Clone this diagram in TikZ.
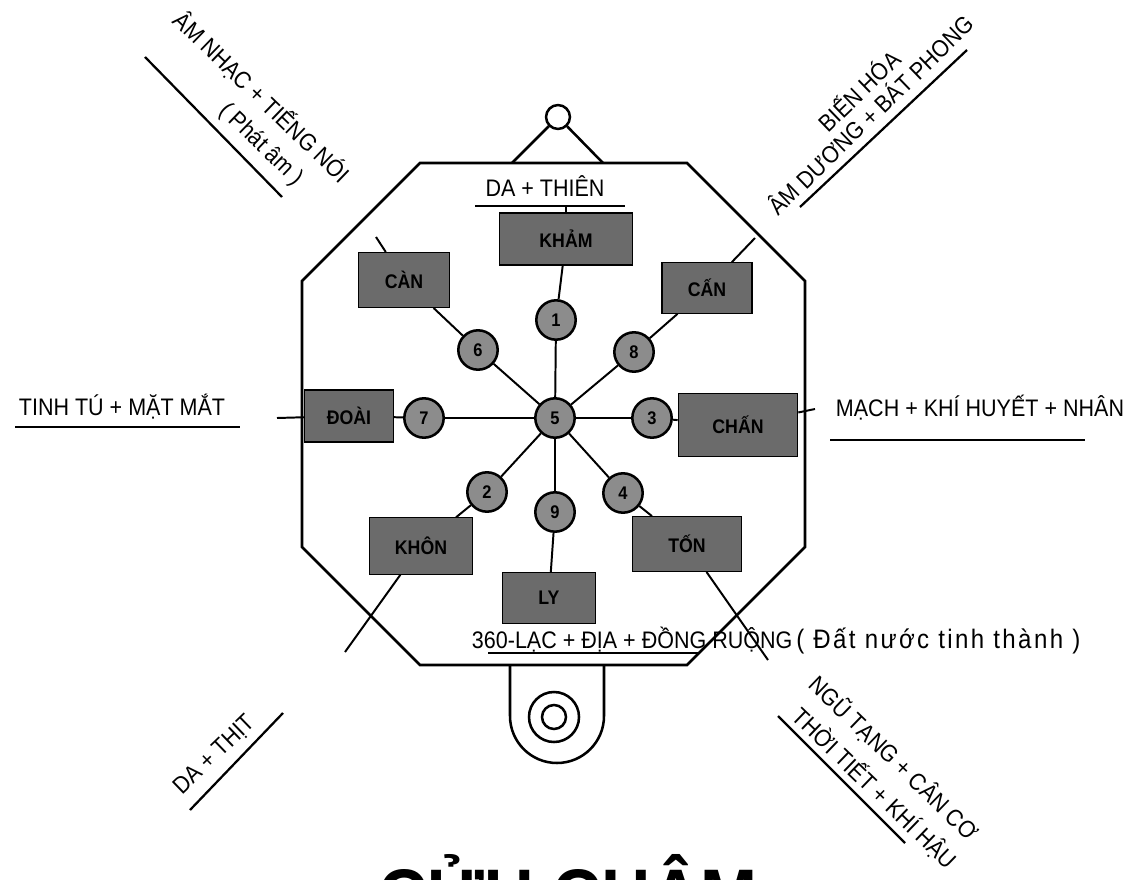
\documentclass[tikz,border=0pt]{standalone}
\usepackage{fontspec}
\setmainfont{Liberation Sans}[FakeStretch=0.9]
\usetikzlibrary{backgrounds}

\begin{document}
\begin{tikzpicture}[
  x=0.025cm, y=-0.025cm,
  every node/.style={font=\fontsize{17}{19}\selectfont},
  cung/.style={draw, thick, fill=black!58, inner sep=0pt,
               font=\fontsize{14}{16}\selectfont\bfseries},
  so/.style={circle, draw, line width=1.8pt, fill=black!45, inner sep=0pt,
             minimum size=28pt, font=\fontsize{13}{15}\selectfont\bfseries},
  ke/.style={line width=1.4pt},
  nen/.style={line width=1.8pt},
  gach/.style={line width=1.6pt}
]
\clip (0,0) rectangle (1138,880);
\begin{scope}[on background layer]
\fill[white] (0,0) rectangle (1138,880);
\end{scope}

%% Khung bat giac
\draw[nen] (420,163) -- (687,163) -- (805,281) -- (805,547) -- (687,665)
  -- (420,665) -- (302,547) -- (302,281) -- cycle;
\node[circle, draw, nen, minimum size=17pt, inner sep=0pt] (moc) at (558,117) {};
\coordinate (mocT) at (512,163);
\coordinate (mocP) at (603,163);
\draw[nen] (moc) -- (mocT);
\draw[nen] (moc) -- (mocP);
\draw[nen] (510,665) -- (510,716) arc (180:0:47) -- (604,665);
\draw[nen] (554,717) circle (25);
\draw[nen] (554,717) circle (12);

%% Cung
\node[cung, minimum width=94pt, minimum height=37pt] (kham) at (566,239) {KHẢM};
\node[cung, minimum width=65pt, minimum height=39pt] (kien) at (404,280) {CÀN};
\node[cung, minimum width=64pt, minimum height=36pt] (can)  at (707,288) {CẤN};
\node[cung, minimum width=63pt, minimum height=37pt] (doai) at (349,416) {ĐOÀI};
\node[cung, minimum width=85pt, minimum height=45pt] (chan) at (738,425) {CHẤN};
\node[cung, minimum width=73pt, minimum height=40pt] (khon) at (421,546) {KHÔN};
\node[cung, minimum width=66pt, minimum height=36pt] (ly)   at (549,598) {LY};
\node[cung, minimum width=78pt, minimum height=39pt] (ton)  at (687,544) {TỐN};

%% So
\node[so] (n5) at (555,418) {5};
\node[so] (n1) at (556,320) {1};
\node[so] (n6) at (478,350) {6};
\node[so] (n8) at (634,352) {8};
\node[so] (n7) at (424,418) {7};
\node[so] (n3) at (652,418) {3};
\node[so] (n2) at (487,492) {2};
\node[so] (n9) at (555,512) {9};
\node[so] (n4) at (623,493) {4};

%% Nhan
\node[anchor=base] (thien) at (545,197) {DA + THIÊN};
\node[anchor=base] (tinhtu) at (122,415) {TINH TÚ + MẶT MẮT};
\node[anchor=base] (mach) at (980,416) {MẠCH + KHÍ HUYẾT + NHÂN};
\node[anchor=base west] (lac) at (467,648)
  {360-LẠC + ĐỊA + ĐỒNG RUỘNG\,{\fontsize{19}{21}\selectfont\addfontfeatures{LetterSpace=9}( Đất nước tinh thành )}};
\node[rotate=-44] (amnhac) at (262,97) {ÂM NHẠC + TIẾNG NÓI};
\node[rotate=-44] (phatam) at (261,145) {( Phát âm )};
\node[rotate=44] (bienhoa) at (858,90) {BIẾN HÓA};
\node[rotate=44] (amduong) at (870,114) {ÂM DƯƠNG + BÁT PHONG};
\node[rotate=44] (dathit) at (215,755) {DA + THỊT};
\node[rotate=-44] (ngutang) at (894,758) {NGŨ TẠNG + CÂN CƠ};
\node[rotate=-44] (thoitiet) at (875,788) {THỜI TIẾT + KHÍ HẬU};
\node[anchor=base, font=\fontsize{54}{56}\selectfont\bfseries] (tieude) at (568,922) {CỬU CHÂM};

%% Gach duoi
\coordinate (thienA) at (475,206);  \coordinate (thienB) at (625,206);
\coordinate (tinhA) at (15,427);    \coordinate (tinhB) at (240,427);
\coordinate (machA) at (830,440);   \coordinate (machB) at (1085,440);
\coordinate (lacA) at (488,653);    \coordinate (lacB) at (700,653);
\coordinate (amA) at (145,57);      \coordinate (amB) at (282,197);
\coordinate (duongA) at (800,207);  \coordinate (duongB) at (967,50);
\coordinate (thitA) at (190,810);   \coordinate (thitB) at (283,713);
\coordinate (thoiA) at (778,716);   \coordinate (thoiB) at (905,843);
\draw[gach] (thienA) -- (thienB);
\draw[gach] (tinhA) -- (tinhB);
\draw[gach] (machA) -- (machB);
\draw[gach] (lacA) -- (lacB);
\draw[gach] (amA) -- (amB);
\draw[gach] (duongA) -- (duongB);
\draw[gach] (thitA) -- (thitB);
\draw[gach] (thoiA) -- (thoiB);

%% Duong noi
\coordinate (kienX) at (376,237);
\coordinate (canX) at (755,238);
\coordinate (doaiX) at (277,418);
\coordinate (chanX) at (815,409);
\coordinate (khonX) at (345,652);
\coordinate (tonX) at (768,660);
\begin{scope}[on background layer]
\foreach \n in {n1,n6,n8,n7,n3,n2,n9,n4}
  \draw[ke] (n5) -- (\n);
\draw[ke] (n1) -- (kham);
\draw[ke] (n6) -- (kien);
\draw[ke] (n8) -- (can);
\draw[ke] (n7) -- (doai);
\draw[ke] (n3) -- (chan);
\draw[ke] (n2) -- (khon);
\draw[ke] (n9) -- (ly);
\draw[ke] (n4) -- (ton);
\end{scope}
\draw[ke] (kham.north) -- (kham.north |- thienA);
\draw[ke] (kien) -- (kienX);
\draw[ke] (can) -- (canX);
\draw[ke] (doai) -- (doaiX);
\draw[ke] (chan) -- (chanX);
\draw[ke] (khon) -- (khonX);
\draw[ke] (ton) -- (tonX);
\end{tikzpicture}
\end{document}
